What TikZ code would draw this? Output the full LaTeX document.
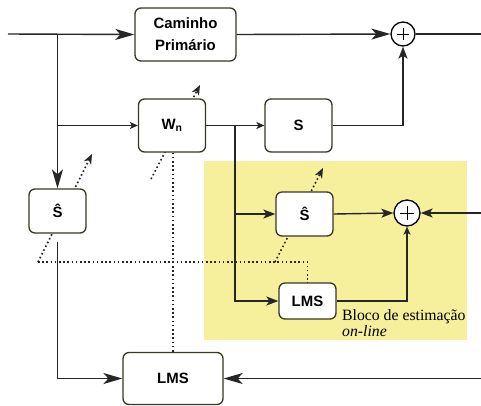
\documentclass[tikz,border=0pt]{standalone}
\usepackage{fontspec}
\setmainfont{Liberation Sans}
\newfontfamily\serifnote{Liberation Serif}
\usetikzlibrary{arrows.meta}
\definecolor{bgyellow}{RGB}{246,239,155}
\definecolor{boxedge}{RGB}{55,55,35}
\begin{document}
\begin{tikzpicture}[x=1bp,y=-1bp,
  blk/.style={draw=boxedge,line width=1.3bp,rounded corners=6bp,fill=white,
    font=\fontsize{15}{22}\selectfont\bfseries,align=center,inner sep=0pt},
  sumc/.style={draw=black,line width=1.3bp,circle,fill=white,inner sep=0pt},
  wire/.style={line width=1.4bp,draw=black!85},
  bigarr/.style={wire,-{Stealth[length=19bp,width=11bp,inset=5bp]}},
  medarr/.style={wire,-{Stealth[length=12bp,width=9bp,inset=3bp]}},
  smallarr/.style={wire,-{Stealth[length=8bp,width=7bp,inset=2bp]}},
  dots/.style={line width=1.6bp,dash pattern=on 1.6bp off 2.6bp,draw=black!85},
  dotarr/.style={dots,-{Stealth[length=10bp,width=8bp,inset=3bp]}}
]
\useasboundingbox (0,0) rectangle (481,405);
% yellow estimation area
\fill[bgyellow] (204,161) rectangle (467,340);

% diagonal adaptation arrows (under the boxes)
\coordinate (d1s) at (38,262);
\coordinate (d1e) at (92,154);
\coordinate (d2s) at (151,179);
\coordinate (d2e) at (200,85);
\coordinate (d3s) at (275,262);
\coordinate (d3e) at (323,168);
\draw[dotarr] (d1s) -- (d1e);
\draw[dotarr] (d2s) -- (d2e);
\draw[dotarr] (d3s) -- (d3e);

% blocks
\node[blk,minimum width=101bp,minimum height=53bp] (cam) at (185.5,34.5) {Caminho\\Primário};
\node[sumc,minimum size=24bp] (sum1) at (403,34) {};
\node[blk,minimum width=67bp,minimum height=53bp] (wn) at (172,125.5) {W\textsubscript{n}};
\node[blk,minimum width=67bp,minimum height=53bp] (s) at (298.5,125.5) {S};
\node[blk,minimum width=57bp,minimum height=44bp] (shl) at (57.5,211) {Ŝ};
\node[blk,minimum width=57bp,minimum height=44bp] (shi) at (304.5,214) {Ŝ};
\node[sumc,minimum size=26bp] (sum2) at (407,213) {};
\node[blk,minimum width=57bp,minimum height=36bp] (lmsi) at (307.5,301) {LMS};
\node[blk,minimum width=100bp,minimum height=52bp] (lmsb) at (173,378.5) {LMS};
\node[anchor=base west,inner sep=0pt,font=\serifnote\fontsize{15.8}{16}\selectfont,align=left] (note) at (342,336) {Bloco de estimação\\\textit{on-line}};

% plus signs
\draw[line width=0.9bp] ([xshift=-6bp]sum1.center) -- ([xshift=6bp]sum1.center)
  ([yshift=-6bp]sum1.center) -- ([yshift=6bp]sum1.center);
\draw[line width=0.9bp] ([xshift=-7bp]sum2.center) -- ([xshift=7bp]sum2.center)
  ([yshift=-7bp]sum2.center) -- ([yshift=7bp]sum2.center);

% free ends and branch points
\coordinate (in) at (8,34);
\coordinate (out) at (481,34);
\coordinate (br1) at (57.5,34);
\coordinate (br2) at (57.5,125.5);
\coordinate (br3) at (235,125.5);
\coordinate (br4) at (235,214);
\coordinate (e1) at (481,213);
\coordinate (e2) at (481,378.5);

% solid connectors
\draw[bigarr] (in) -- (cam.west);
\draw[bigarr] (cam.east) -- (sum1.west);
\draw[wire] (sum1.east) -- (out);
\draw[bigarr] (br1) -- (shl.north);
\draw[smallarr] (br2) -- (wn.west);
\draw[smallarr] (wn.east) -- (s.west);
\draw[medarr] (s.east) -| (sum1.south);
\draw[medarr] (br3) |- (lmsi.west);
\draw[medarr] (br4) -- (shi.west);
\draw[medarr] (shi.east) -- (sum2.west);
\draw[medarr] (e1) -- (sum2.east);
\draw[smallarr] (lmsi.east) -| (sum2.south);
\draw[bigarr,shorten <=8bp] (shl.south) |- (lmsb.west);
\draw[bigarr] (e2) -- (lmsb.east);

% dotted error/update paths
\draw[dots] (lmsb.north |- wn.south) -- (lmsb.north);
\draw[dots] (d1s) -| (lmsi.north);
\end{tikzpicture}
\end{document}
